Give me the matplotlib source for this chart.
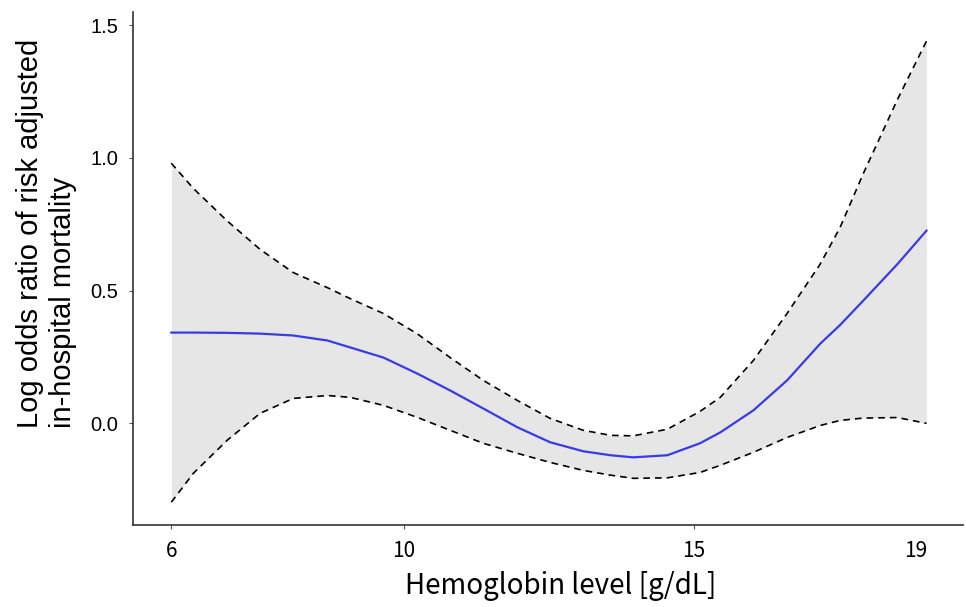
import matplotlib
matplotlib.use("Agg")
import matplotlib.pyplot as plt
import matplotlib.transforms as mtransforms

# values
hb = [6.0, 6.38, 6.96, 7.53, 8.10, 8.69, 9.08, 9.65, 10.23, 10.80, 11.37, 11.96, 12.52,
      13.09, 13.56, 13.95, 14.54, 15.10, 15.45, 16.02, 16.60, 17.17, 17.51, 17.91, 18.50, 19.0]
log_or = [0.342, 0.342, 0.341, 0.338, 0.331, 0.312, 0.286, 0.248, 0.188, 0.124, 0.056, -0.015,
          -0.071, -0.105, -0.120, -0.128, -0.120, -0.075, -0.034, 0.049, 0.162, 0.300, 0.370,
          0.462, 0.600, 0.726]
upper = [0.98, 0.885, 0.763, 0.655, 0.568, 0.511, 0.47, 0.414, 0.338, 0.248, 0.162, 0.086,
         0.019, -0.026, -0.045, -0.047, -0.022, 0.045, 0.098, 0.237, 0.414, 0.60, 0.737,
         0.94, 1.22, 1.44]
lower = [-0.297, -0.188, -0.064, 0.038, 0.094, 0.105, 0.098, 0.068, 0.023, -0.026, -0.075,
         -0.113, -0.147, -0.177, -0.195, -0.207, -0.205, -0.185, -0.158, -0.109, -0.053,
         -0.008, 0.011, 0.020, 0.022, 0.0]

xticks = [6, 10, 15, 19]
yticks = [0.0, 0.5, 1.0, 1.5]

narrow = ["Liberation Sans Narrow", "Noto Sans CJK JP", "DejaVu Sans"]
regular = ["Liberation Sans", "DejaVu Sans"]

fig = plt.figure(figsize=(9.66, 6.07), dpi=100)
ax = fig.add_axes([0.138, 0.135, 0.859, 0.845])

ax.fill_between(hb, lower, upper, color="#e6e6e6", linewidth=0)
ax.plot(hb, upper, color="black", linestyle=(0, (4, 3)), linewidth=1.2)
ax.plot(hb, lower, color="black", linestyle=(0, (4, 3)), linewidth=1.2)
ax.plot(hb, log_or, color="#3a3ae6", linewidth=1.6)

ax.set_xlim(5.346, 19.63)
ax.set_ylim(-0.383, 1.549)
ax.set_xticks(xticks)
ax.set_xticklabels([str(t) for t in xticks], family=narrow, fontsize=15)
ax.set_yticks(yticks)
ax.set_yticklabels(["%.1f" % t for t in yticks], family=regular, fontsize=14.5)

for s in ["top", "right"]:
    ax.spines[s].set_visible(False)
for s in ["left", "bottom"]:
    ax.spines[s].set_color("#333333")
    ax.spines[s].set_linewidth(1.2)
ax.tick_params(axis="both", length=3, width=0.8, color="#555555", pad=8)

# the "19" label sits a little left of its tick in the original
lab19 = ax.get_xticklabels()[-1]
lab19.set_transform(lab19.get_transform() +
                    mtransforms.ScaledTranslation(-0.11, 0, fig.dpi_scale_trans))
ax.get_xticklines()[-2].set_visible(False)

fig.text(0.048, 0.295, "Log odds ratio of risk adjusted\nin-hospital mortality",
         rotation=90, ha="center", va="bottom", multialignment="left",
         family=regular, fontsize=21, linespacing=1.25)
fig.text(0.58, 0.035, "Hemoglobin level [g/dL]", ha="center", va="center",
         family=narrow, fontsize=20)

fig.savefig("out.png", dpi=100)
